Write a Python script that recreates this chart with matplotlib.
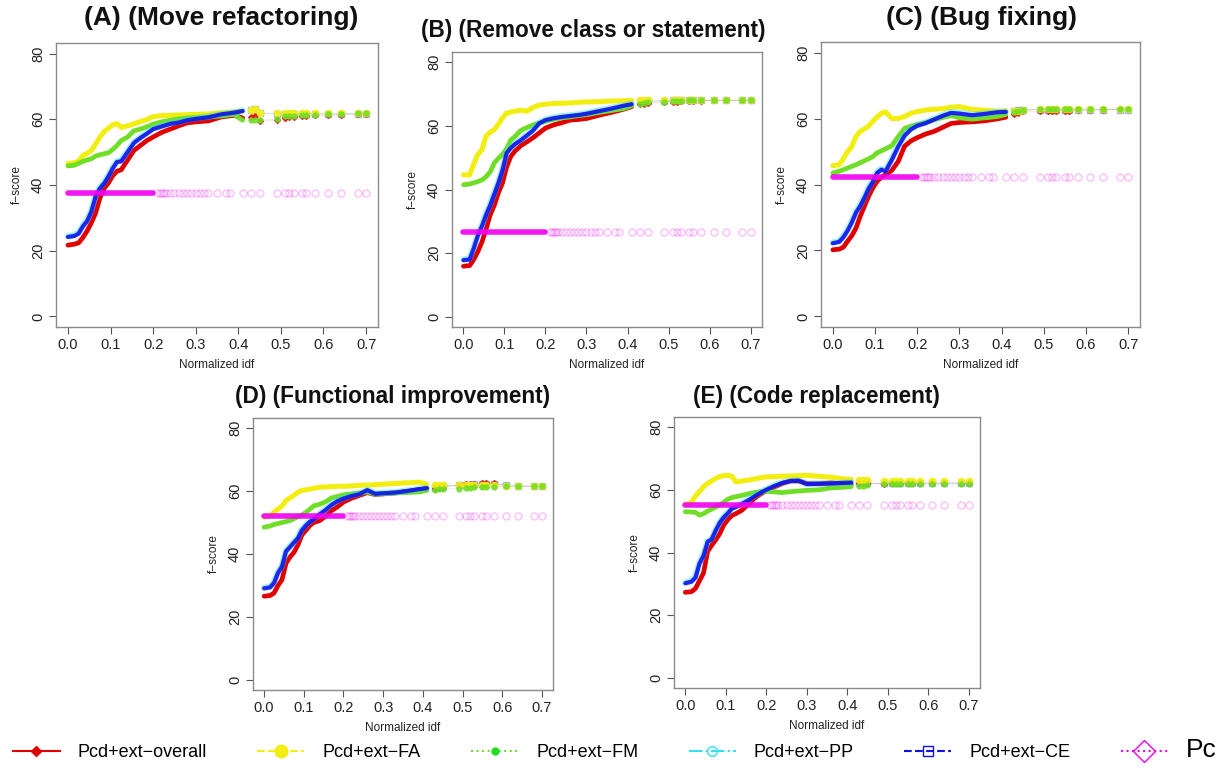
import matplotlib
matplotlib.use("Agg")
import numpy as np
import matplotlib.pyplot as plt
from matplotlib.lines import Line2D

plt.rcParams['font.family'] = ['Liberation Sans', 'DejaVu Sans']

# normalized idf thresholds (dense part up to 0.41, then sparse)
idf = [0.00, 0.015, 0.025, 0.035, 0.045, 0.055, 0.065, 0.075, 0.085, 0.095,
       0.105, 0.115, 0.125, 0.14, 0.155, 0.17, 0.185, 0.20, 0.22, 0.24,
       0.26, 0.28, 0.30, 0.33, 0.36, 0.39, 0.41,
       0.43, 0.44, 0.45, 0.49, 0.51, 0.52, 0.53, 0.55, 0.56, 0.58, 0.61, 0.64, 0.68, 0.70]
# positions of the faint Pc markers
pc_idf = [0.21, 0.215, 0.22, 0.225, 0.23, 0.24, 0.25, 0.26, 0.27, 0.28, 0.29, 0.30,
          0.31, 0.32, 0.33, 0.35, 0.37, 0.38, 0.41, 0.43, 0.45, 0.49, 0.51, 0.52,
          0.53, 0.55, 0.56, 0.58, 0.61, 0.64, 0.68, 0.70]

# (A) Move refactoring
a_overall = [21.7, 22.0, 22.4, 24.0, 26.0, 28.5, 31.5, 36.0, 39.0, 40.6, 42.8, 44.2, 44.6, 47.6,
             50.5, 52.0, 53.5, 54.6, 56.0, 57.0, 58.0, 58.9, 59.2, 59.5, 60.7, 61.2, 60.4,
             60.8, 61.0, 59.6, 59.8, 60.4, 60.6, 60.8, 61.0, 61.0, 61.2, 61.2, 61.4, 61.5, 61.5]
a_fa = [46.5, 46.8, 47.2, 49.0, 49.6, 50.5, 52.5, 54.5, 56.3, 57.3, 58.3, 58.7, 57.5, 58.0,
        58.6, 59.3, 59.9, 60.8, 61.1, 61.2, 61.3, 61.4, 61.5, 61.6, 62.0, 62.2, 62.5,
        62.8, 63.0, 61.9, 61.9, 61.8, 61.8, 61.8, 61.9, 61.9, 61.9, 61.8, 61.8, 61.9, 61.9]
a_fm = [45.8, 46.0, 46.6, 47.2, 47.6, 48.0, 48.8, 49.2, 49.5, 49.8, 50.8, 52.0, 53.5, 54.6,
        56.5, 57.0, 57.7, 58.5, 59.2, 59.7, 60.1, 60.4, 60.5, 60.7, 61.0, 61.5, 59.7,
        59.8, 59.9, 59.7, 60.2, 60.9, 61.0, 61.0, 61.2, 61.2, 61.3, 61.5, 61.6, 61.8, 61.8]
a_ce = [24.2, 24.5, 25.2, 27.4, 29.0, 31.9, 36.5, 39.0, 40.5, 42.6, 45.0, 47.0, 47.2, 50.0,
        52.8, 54.3, 55.6, 57.0, 57.8, 58.6, 59.0, 59.7, 60.1, 60.6, 61.5, 62.0, 62.5,
        62.8, 63.0, 61.8, 61.6, 61.6, 61.6, 61.6, 61.7, 61.7, 61.7, 61.6, 61.6, 61.7, 61.7]
a_pp = [24.4, 24.7, 25.5, 27.6, 29.3, 32.3, 36.8, 39.3, 40.8, 42.9, 45.3, 47.2, 47.5, 50.3,
        53.0, 54.5, 55.8, 57.2, 58.0, 58.8, 59.2, 59.9, 60.3, 60.8, 61.6, 62.1, 62.6,
        62.8, 63.0, 61.8, 61.6, 61.6, 61.6, 61.6, 61.7, 61.7, 61.7, 61.6, 61.6, 61.7, 61.7]
a_pc = 37.5

# (B) Remove class or statement
b_overall = [15.9, 16.1, 18.0, 20.5, 23.5, 27.5, 32.0, 35.0, 38.9, 42.0, 47.0, 50.3, 52.0, 53.8,
             55.0, 56.3, 57.8, 59.3, 60.3, 61.0, 61.8, 62.0, 62.3, 63.3, 64.2, 65.2, 66.0,
             66.8, 67.0, 67.2, 67.5, 67.6, 67.6, 67.7, 67.8, 67.8, 67.9, 68.0, 68.0, 68.0, 68.0]
b_fa = [44.6, 44.6, 48.0, 51.0, 52.5, 56.8, 58.0, 58.8, 60.5, 62.5, 64.0, 64.3, 64.6, 64.9,
        64.6, 65.8, 66.5, 66.8, 67.0, 67.1, 67.2, 67.4, 67.5, 67.6, 67.8, 67.9, 68.0,
        68.0, 68.1, 68.1, 68.1, 68.1, 68.1, 68.1, 68.1, 68.1, 68.1, 68.1, 68.1, 68.1, 68.1]
b_fm = [41.5, 41.7, 42.1, 42.5, 43.0, 44.0, 45.5, 48.3, 49.8, 51.0, 52.8, 55.5, 56.6, 58.6,
        59.5, 60.3, 60.9, 61.4, 62.0, 62.5, 62.8, 63.2, 63.5, 64.2, 64.8, 65.4, 66.3,
        67.0, 67.2, 67.4, 67.6, 67.8, 67.9, 67.9, 68.0, 68.0, 68.0, 68.1, 68.1, 68.1, 68.1]
b_ce = [17.8, 18.0, 21.5, 25.5, 28.5, 32.0, 35.0, 38.5, 42.0, 46.0, 51.4, 53.0, 54.2, 55.5,
        57.0, 58.6, 60.8, 61.8, 62.4, 62.8, 63.1, 63.4, 63.8, 64.6, 65.4, 66.3, 66.8,
        67.4, 67.6, 67.8, 67.9, 68.0, 68.0, 68.0, 68.0, 68.0, 68.0, 68.0, 68.0, 68.0, 68.0]
b_pp = [18.0, 18.3, 21.8, 25.8, 28.8, 32.4, 35.4, 38.9, 42.4, 46.4, 51.6, 53.2, 54.4, 55.7,
        57.2, 58.8, 61.0, 62.0, 62.6, 63.0, 63.3, 63.6, 64.0, 64.8, 65.6, 66.4, 66.9,
        67.4, 67.6, 67.8, 67.9, 68.0, 68.0, 68.0, 68.0, 68.0, 68.0, 68.0, 68.0, 68.0, 68.0]
b_pc = 26.7

# (C) Bug fixing
c_overall = [20.2, 20.4, 21.0, 22.8, 24.5, 26.8, 30.4, 33.5, 36.5, 39.0, 41.0, 42.2, 43.0, 44.3,
             47.0, 51.6, 53.2, 54.2, 55.3, 56.1, 57.3, 58.5, 58.8, 59.0, 59.3, 59.9, 60.4,
             61.5, 61.8, 62.3, 62.2, 62.3, 62.2, 62.3, 62.4, 62.4, 62.5, 62.5, 62.7, 62.8, 62.8]
c_fa = [45.7, 46.0, 47.8, 50.0, 51.5, 54.6, 56.1, 56.9, 57.7, 59.2, 60.5, 61.6, 62.0, 60.0,
        60.0, 60.6, 61.6, 62.1, 62.6, 62.8, 63.0, 63.4, 63.6, 62.8, 62.5, 62.2, 62.3,
        62.3, 62.4, 62.6, 62.9, 62.9, 62.9, 62.9, 62.9, 62.9, 62.9, 62.9, 62.9, 62.9, 62.9]
c_fm = [43.5, 44.0, 44.5, 45.0, 45.5, 46.0, 46.6, 47.2, 47.8, 48.5, 49.6, 50.2, 50.8, 51.8,
        54.5, 57.0, 57.7, 58.2, 58.8, 59.6, 60.3, 60.9, 60.2, 59.8, 60.2, 60.6, 61.2,
        62.0, 62.3, 62.5, 62.8, 62.8, 62.8, 62.8, 62.8, 62.8, 62.8, 62.8, 62.8, 62.9, 62.9]
c_ce = [22.2, 22.6, 24.0, 26.0, 28.5, 31.5, 33.5, 36.0, 38.8, 40.8, 43.5, 44.5, 44.0, 47.5,
        51.5, 54.8, 56.7, 57.8, 58.6, 59.7, 60.8, 61.7, 61.5, 61.0, 61.4, 61.9, 62.0,
        62.3, 62.5, 62.7, 62.7, 62.7, 62.7, 62.7, 62.7, 62.7, 62.7, 62.7, 62.7, 62.7, 62.7]
c_pp = [22.4, 22.8, 24.3, 26.3, 28.8, 31.8, 33.8, 36.3, 39.1, 41.1, 43.8, 44.7, 44.3, 47.8,
        51.8, 55.0, 56.9, 58.0, 58.8, 59.9, 61.0, 61.9, 61.7, 61.2, 61.5, 62.0, 62.1,
        62.3, 62.5, 62.7, 62.7, 62.7, 62.7, 62.7, 62.7, 62.7, 62.7, 62.7, 62.7, 62.7, 62.7]
c_pc = 42.3

# (D) Functional improvement
d_overall = [26.6, 26.8, 27.6, 30.0, 31.8, 37.0, 39.0, 40.5, 42.8, 46.0, 47.5, 49.0, 50.0, 50.6,
             52.0, 53.8, 55.0, 56.5, 57.7, 58.6, 59.5, 58.9, 59.1, 59.4, 59.9, 60.4, 60.8,
             61.1, 61.2, 61.4, 61.8, 62.1, 62.2, 62.3, 62.5, 62.5, 62.6, 61.5, 61.5, 61.5, 61.5]
d_fa = [51.7, 52.2, 53.3, 54.3, 55.2, 57.0, 57.8, 58.6, 59.6, 60.2, 60.4, 60.6, 60.9, 61.2,
        61.3, 61.4, 61.5, 61.5, 61.6, 61.8, 61.9, 62.0, 62.2, 62.4, 62.6, 62.8, 62.2,
        62.0, 62.0, 62.0, 62.0, 62.0, 62.0, 61.9, 61.9, 61.8, 61.8, 61.7, 61.6, 61.5, 61.5]
d_fm = [48.5, 48.9, 49.4, 49.7, 50.0, 50.3, 50.6, 51.2, 51.8, 52.4, 53.2, 54.2, 55.3, 55.8,
        56.6, 57.8, 58.3, 58.8, 59.1, 59.4, 59.7, 59.1, 59.2, 59.4, 59.5, 59.7, 60.2,
        60.4, 60.5, 60.7, 60.8, 61.0, 61.1, 61.2, 61.3, 61.3, 61.4, 61.5, 61.5, 61.5, 61.5]
d_ce = [29.1, 29.4, 30.8, 34.0, 36.0, 40.8, 42.2, 43.6, 45.0, 47.5, 49.0, 50.2, 51.0, 52.6,
        54.0, 55.6, 56.8, 57.6, 58.4, 59.0, 60.3, 59.1, 59.3, 59.5, 60.0, 60.6, 60.9,
        61.1, 61.3, 61.5, 61.8, 62.0, 62.0, 62.1, 62.2, 62.2, 62.2, 62.0, 61.7, 61.5, 61.5]
d_pp = [29.3, 29.6, 31.1, 34.3, 36.3, 41.0, 42.4, 43.8, 45.3, 47.8, 49.2, 50.4, 51.2, 52.8,
        54.2, 55.8, 57.0, 57.8, 58.6, 59.2, 60.4, 59.2, 59.4, 59.6, 60.1, 60.7, 61.0,
        61.1, 61.3, 61.5, 61.8, 62.0, 62.0, 62.1, 62.2, 62.2, 62.2, 62.0, 61.7, 61.5, 61.5]
d_pc = 52.2

# (E) Code replacement
e_overall = [27.3, 27.5, 28.5, 31.0, 33.5, 40.3, 42.3, 44.0, 46.0, 48.8, 50.5, 51.8, 52.4, 53.5,
             55.3, 57.2, 58.6, 59.7, 60.9, 62.0, 62.8, 62.8, 62.0, 61.9, 62.2, 61.8, 61.7,
             62.2, 62.3, 62.2, 61.8, 62.0, 62.0, 62.1, 62.1, 62.2, 62.2, 62.2, 62.3, 62.3, 62.3]
e_fa = [55.3, 56.0, 58.0, 59.5, 61.0, 62.0, 62.8, 63.6, 64.2, 64.5, 64.6, 64.3, 62.5, 62.8,
        63.1, 63.4, 63.8, 64.1, 64.2, 64.3, 64.4, 64.5, 64.6, 64.3, 64.0, 63.5, 63.3,
        63.2, 63.2, 63.0, 62.8, 62.7, 62.7, 62.7, 62.7, 62.7, 62.7, 62.7, 62.7, 62.7, 62.7]
e_fm = [53.0, 52.9, 52.8, 51.9, 52.4, 53.2, 53.8, 54.5, 55.2, 56.0, 57.0, 57.5, 57.8, 58.2,
        58.7, 59.1, 59.4, 59.5, 59.3, 59.1, 59.4, 59.6, 59.8, 60.0, 60.6, 60.8, 61.0,
        61.2, 61.3, 61.4, 61.7, 61.7, 61.7, 61.7, 61.7, 61.7, 61.7, 61.7, 61.7, 61.7, 61.7]
e_ce = [30.2, 30.7, 32.0, 36.5, 39.0, 43.4, 44.2, 47.0, 49.5, 51.2, 52.5, 54.0, 54.5, 55.5,
        56.6, 57.8, 59.0, 60.0, 61.2, 62.2, 62.8, 62.9, 61.8, 61.9, 62.0, 62.2, 62.3,
        62.2, 62.2, 62.1, 62.0, 62.0, 62.0, 62.0, 62.0, 62.0, 62.0, 62.0, 62.0, 62.0, 62.0]
e_pp = [30.4, 30.9, 32.3, 36.8, 39.3, 43.6, 44.4, 47.2, 49.7, 51.4, 52.7, 54.2, 54.7, 55.7,
        56.8, 58.0, 59.2, 60.2, 61.4, 62.3, 62.9, 63.0, 61.9, 62.0, 62.1, 62.2, 62.3,
        62.2, 62.2, 62.1, 62.0, 62.0, 62.0, 62.0, 62.0, 62.0, 62.0, 62.0, 62.0, 62.0, 62.0]
e_pc = 55.3

titles = ["(A) (Move refactoring)", "(B) (Remove class or statement)", "(C) (Bug fixing)",
          "(D) (Functional improvement)", "(E) (Code replacement)"]
series = [
    (a_overall, a_fa, a_fm, a_pp, a_ce, a_pc),
    (b_overall, b_fa, b_fm, b_pp, b_ce, b_pc),
    (c_overall, c_fa, c_fm, c_pp, c_ce, c_pc),
    (d_overall, d_fa, d_fm, d_pp, d_ce, d_pc),
    (e_overall, e_fa, e_fm, e_pp, e_ce, e_pc),
]

W, H = 1229, 775
# axes boxes in pixels: left, top, right, bottom
boxes = [(56, 43, 378, 327), (452, 52, 762, 327), (821, 42, 1140, 327),
         (253, 418, 553, 690), (674, 417, 980, 688)]
title_x = [221, 593, 981, 393, 816]
title_y = [18, 30, 18, 396, 396]
title_size = [19, 16.3, 19, 16.3, 16.3]

RED, YEL, GRN, CYN, BLU, MAG = '#E00000', '#F2EE10', '#70DE26', '#33E0F0', '#1010E8', '#F000F0'
# sparse tail: blue/cyan faint underneath, red, then yellow and green dots on top
styles = [
    dict(color=RED, marker='D', ms=3, mfc=RED, a=0.8, z=3.5),
    dict(color=YEL, marker='o', ms=4.5, mfc=YEL, a=0.9, z=5),
    dict(color=GRN, marker='o', ms=3.5, mfc=GRN, a=0.85, z=6),
    dict(color=CYN, marker='o', ms=4.5, mfc='none', a=0.25, z=2),
    dict(color=BLU, marker='s', ms=4, mfc='none', a=0.3, z=3),
]
widths = [3.4, 3.6, 3.4, 4.6, 3.0]
alphas = [1.0, 1.0, 1.0, 0.45, 0.9]

x = np.array(idf)
dense = x <= 0.415

fig = plt.figure(figsize=(W / 100, H / 100), dpi=100)

for i, (l, t, r, b) in enumerate(boxes):
    ax = fig.add_axes([l / W, 1 - b / H, (r - l) / W, (b - t) / H])
    vals = series[i]
    for j in range(5):
        y = np.array(vals[j])
        st = styles[j]
        ax.plot(x[dense], y[dense], color=st['color'], lw=widths[j], alpha=alphas[j],
                solid_capstyle='round', zorder=2 + j)
        ax.plot(x[~dense], y[~dense], color=st['color'], lw=0.6, alpha=0.15, zorder=st['z'])
        ax.plot(x[~dense], y[~dense], ls='none', marker=st['marker'], ms=st['ms'],
                mfc=st['mfc'], mec=st['color'], mew=1.0, alpha=st['a'], zorder=st['z'])
    pc = vals[5]
    ax.plot([0.0, 0.2], [pc, pc], color=MAG, lw=4, alpha=0.9, zorder=8,
            solid_capstyle='round')
    ax.plot(pc_idf, [pc] * len(pc_idf), ls='none', marker='o', ms=5, mfc='none',
            mec=MAG, mew=1.0, alpha=0.25, zorder=8)

    ax.set_xlim(-0.028, 0.728)
    ax.set_ylim(-3.2, 83.2)
    ax.set_xticks([0.0, 0.1, 0.2, 0.3, 0.4, 0.5, 0.6, 0.7])
    ax.set_xticklabels(['0.0', '0.1', '0.2', '0.3', '0.4', '0.5', '0.6', '0.7'])
    ax.set_yticks([0, 20, 40, 60, 80])
    ax.set_yticklabels(['0', '20', '40', '60', '80'], rotation=90, va='center')
    ax.tick_params(direction='out', length=5, width=0.8, color='#555555',
                   labelsize=10.5, labelcolor='#222222', pad=3)
    for sp in ax.spines.values():
        sp.set_color('#8a8a8a')
        sp.set_linewidth(1.0)
    ax.set_ylabel('f\u2212score', fontsize=8.5, color='#222222', labelpad=6)
    ax.set_xlabel('Normalized idf', fontsize=8.5, color='#222222', labelpad=5)
    fig.text(title_x[i] / W, 1 - title_y[i] / H, titles[i], ha='center', va='center',
             fontsize=title_size[i], fontweight='bold', color='#111111')

handles = [
    Line2D([], [], color=RED, ls='-', lw=1.5, marker='D', ms=5, mfc=RED, mec=RED),
    Line2D([], [], color=YEL, ls='--', lw=1.5, marker='o', ms=9, mfc=YEL, mec=YEL),
    Line2D([], [], color=GRN, ls=':', lw=1.5, marker='o', ms=5, mfc='#22DD22', mec='#22DD22'),
    Line2D([], [], color=CYN, ls='-.', lw=1.5, marker='o', ms=7, mfc='none', mec=CYN),
    Line2D([], [], color=BLU, ls='--', lw=1.5, marker='s', ms=7, mfc='none', mec=BLU),
    Line2D([], [], color=MAG, ls=':', lw=1.5, marker='D', ms=11, mfc='none', mec=MAG),
]
labels = ['Pcd+ext\u2212overall', 'Pcd+ext\u2212FA', 'Pcd+ext\u2212FM',
          'Pcd+ext\u2212PP', 'Pcd+ext\u2212CE', 'Pc']
leg = fig.legend(handles, labels, loc='lower left', bbox_to_anchor=(0.0, 0.0, 1.0, 0.05),
                 ncol=6, mode='expand', frameon=False, fontsize=13, handlelength=2.6,
                 handletextpad=1.0, borderaxespad=0.3)
leg.get_texts()[5].set_fontsize(19)

fig.savefig('out.png', dpi=100)
